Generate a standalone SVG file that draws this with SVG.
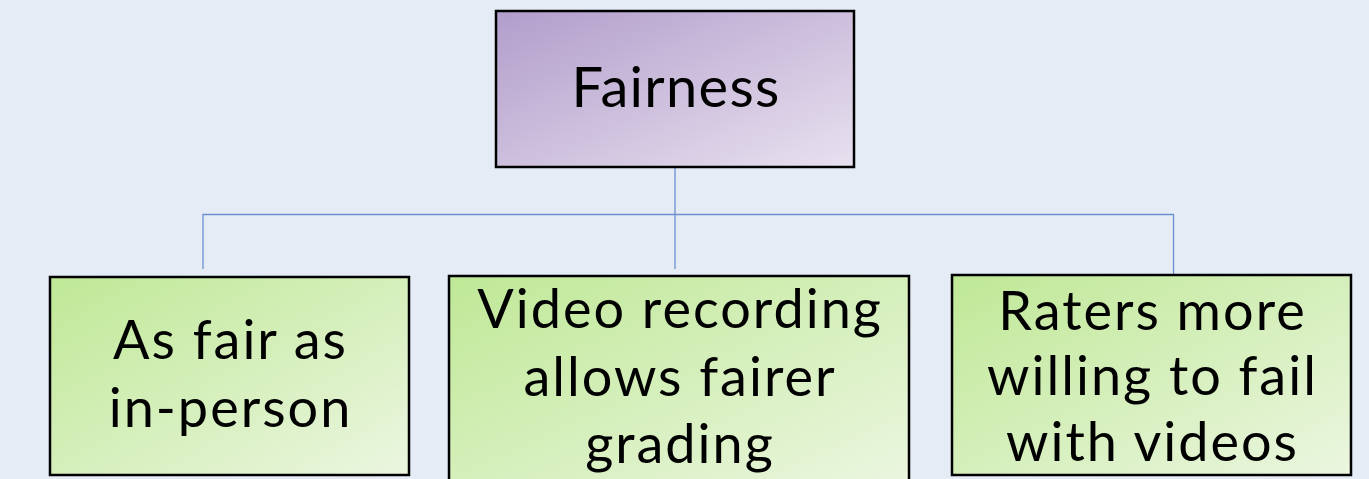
<svg xmlns="http://www.w3.org/2000/svg" width="1369" height="479" viewBox="0 0 1369 479">
<style>
.box{stroke:#000;stroke-width:2.5}
.t{font-family:Lato,"Open Sans",sans-serif;fill:#000;text-anchor:middle;font-size:54px;letter-spacing:2px}
.h{font-size:56px;letter-spacing:1.3px}
.conn{fill:none;stroke:#6d8fcf;stroke-width:1.3}
</style>
<defs>
<linearGradient id="gP" x1="0" y1="0" x2="1" y2="1">
<stop offset="0" stop-color="#b29dcb"/>
<stop offset="1" stop-color="#e8e1ef"/>
</linearGradient>
<linearGradient id="gG" x1="0" y1="0" x2="1" y2="1">
<stop offset="0" stop-color="#bfe896"/>
<stop offset="1" stop-color="#ebf6e0"/>
</linearGradient>
</defs>
<rect width="1369" height="479" fill="#e5ecf6"/>
<g id="connectors">
<path class="conn" d="M675 167 V269"/>
<path class="conn" d="M203 269 V214.5 H1173.5 V274"/>
</g>
<g id="fairness">
<rect class="box" x="496" y="11" width="358" height="156" fill="url(#gP)"/>
<text class="t h" x="676" y="107">Fairness</text>
</g>
<g id="as-fair">
<rect class="box" x="50" y="277" width="359" height="198" fill="url(#gG)"/>
<text class="t" x="230.5" y="359">As fair as</text>
<text class="t" x="230.5" y="427">in-person</text>
</g>
<g id="video-recording">
<rect class="box" x="449" y="276" width="460" height="210" fill="url(#gG)"/>
<text class="t" x="680" y="328">Video recording</text>
<text class="t" x="680" y="396">allows fairer</text>
<text class="t" x="680" y="463">grading</text>
</g>
<g id="raters">
<rect class="box" x="952" y="275" width="399" height="200" fill="url(#gG)"/>
<text class="t" x="1152.5" y="330">Raters more</text>
<text class="t" x="1152.5" y="395">willing to fail</text>
<text class="t" x="1152.5" y="461">with videos</text>
</g>
</svg>
